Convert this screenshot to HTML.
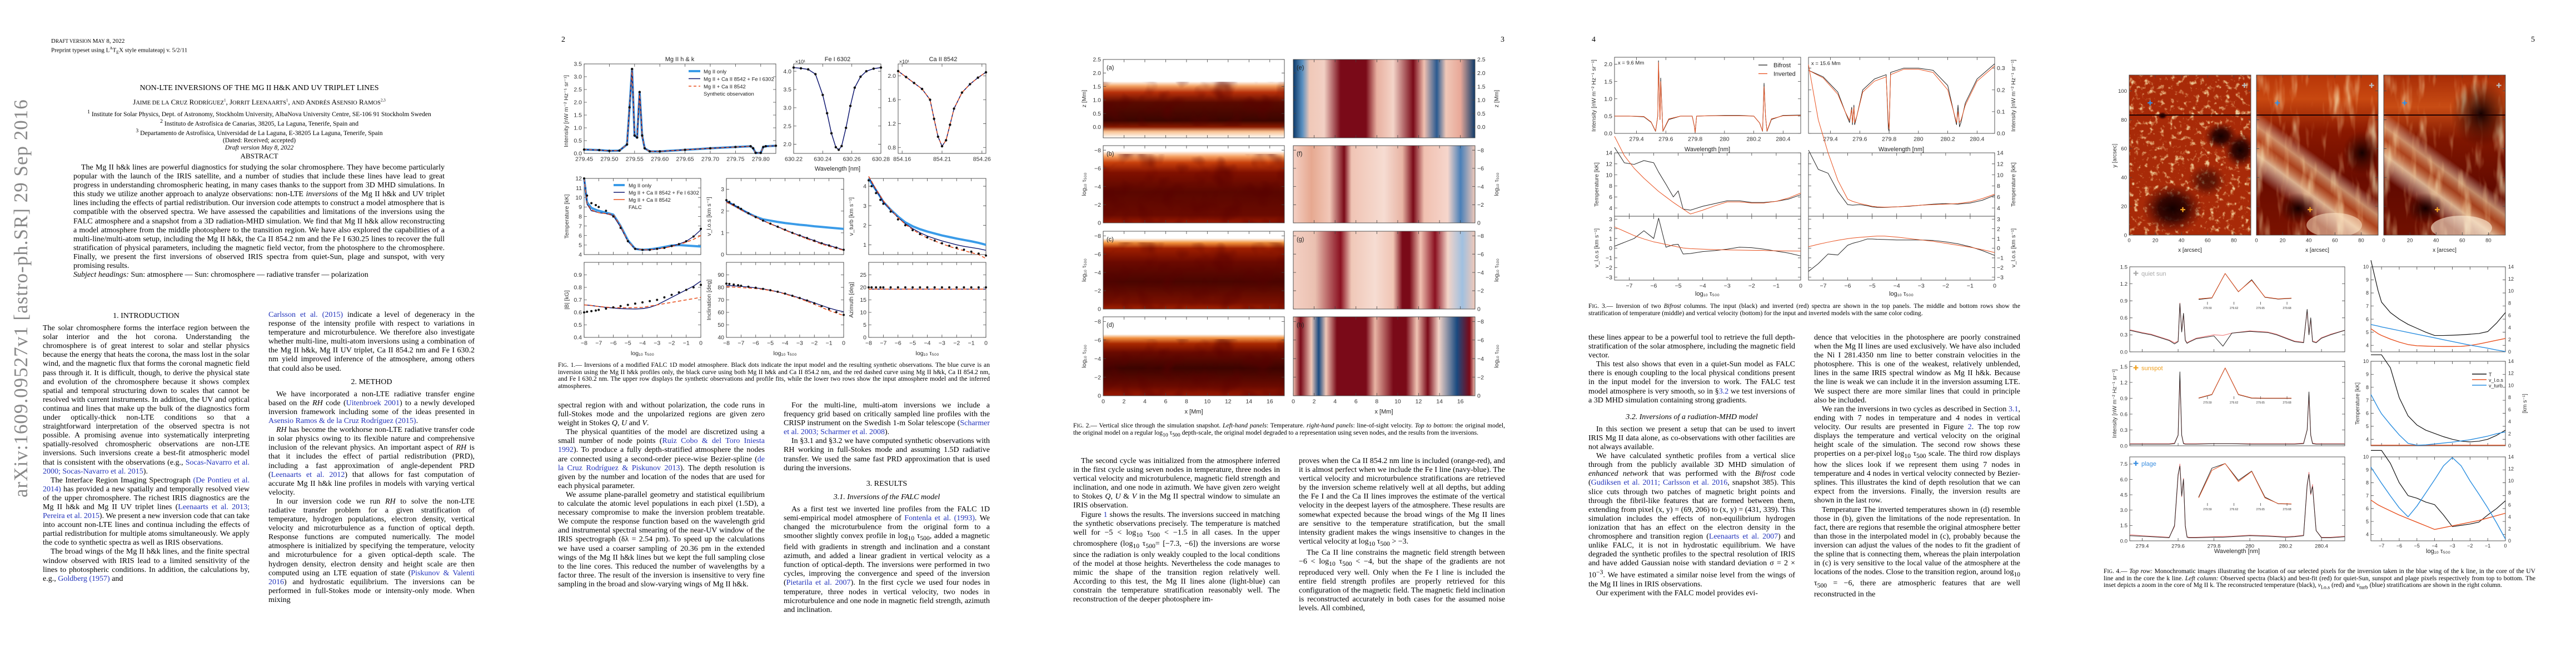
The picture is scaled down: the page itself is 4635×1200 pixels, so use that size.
<!DOCTYPE html>
<html><head><meta charset="utf-8">
<style>
html,body{margin:0;padding:0;background:#fff;}
body{width:4635px;height:1200px;position:relative;overflow:hidden;font-family:"Liberation Serif",serif;color:#000;}
.page{position:absolute;top:0;width:927px;height:1200px;background:#fff;}
.t{position:absolute;font-size:14px;line-height:16.1px;text-align:justify;overflow:hidden;hyphens:auto;}
.t p{margin:0;text-indent:14px;}
.h{text-align:center;text-indent:0!important;margin:8px 0 6px!important;}
.cap{position:absolute;font-size:11.6px;line-height:12.7px;text-align:justify;overflow:hidden;}
.lk{color:#2233bb;}
.hm{position:absolute;overflow:hidden;}
.hm svg{position:absolute;left:0;top:0;}
#charts{position:absolute;left:0;top:0;}
#charts text{font-family:"Liberation Sans",sans-serif;}
</style></head><body>
<svg width="0" height="0" style="position:absolute">
 <filter id="speck" x="0" y="0" width="100%" height="100%"><feTurbulence type="fractalNoise" baseFrequency="0.11" numOctaves="3" seed="3"/><feColorMatrix type="matrix" values="0 0 0 0 1  1.6 0 0 0 -0.35  1.4 0 0 0 -0.6  4 0 0 0 -2.2"/></filter>
 <filter id="fib" x="0" y="0" width="100%" height="100%"><feTurbulence type="fractalNoise" baseFrequency="0.05 0.012" numOctaves="3" seed="7"/><feColorMatrix type="matrix" values="0 0 0 0 1  1.5 0 0 0 -0.3  1.3 0 0 0 -0.5  2.6 0 0 0 -1.35"/></filter>
 <filter id="dark" x="0" y="0" width="100%" height="100%"><feTurbulence type="fractalNoise" baseFrequency="0.03" numOctaves="2" seed="11"/><feColorMatrix type="matrix" values="0 0 0 0 0.1  0 0 0 0 0  0 0 0 0 0  -3 0 0 0 1.6"/></filter>
</svg>

<!-- PAGE 1 -->
<div class="page" style="left:0">
 <div style="position:absolute;left:92px;top:68px;font-size:11px;line-height:13px">D<span style="font-size:9px">RAFT VERSION</span> M<span style="font-size:9px">AY</span> 8, 2022<br>Preprint typeset using L<sup style="font-size:7px">A</sup>T<sub style="font-size:8px">E</sub>X style emulateapj v. 5/2/11</div>
 <div style="position:absolute;left:0;width:933px;top:151px;text-align:center;font-size:14px">NON-LTE INVERSIONS OF THE MG II H&amp;K AND UV TRIPLET LINES</div>
 <div style="position:absolute;left:0;width:933px;top:176px;text-align:center;font-size:13px">J<span style="font-size:10.5px">AIME DE LA</span> C<span style="font-size:10.5px">RUZ</span> R<span style="font-size:10.5px">ODRÍGUEZ</span><sup style="font-size:7px">1</sup>, J<span style="font-size:10.5px">ORRIT</span> L<span style="font-size:10.5px">EENAARTS</span><sup style="font-size:7px">1</sup>, <span style="font-size:10.5px">AND</span> A<span style="font-size:10.5px">NDRÉS</span> A<span style="font-size:10.5px">SENSIO</span> R<span style="font-size:10.5px">AMOS</span><sup style="font-size:7px">2,3</sup></div>
 <div style="position:absolute;left:0;width:933px;top:195px;text-align:center;font-size:11.6px;line-height:13px"><sup>1</sup> Institute for Solar Physics, Dept. of Astronomy, Stockholm University, AlbaNova University Centre, SE-106 91 Stockholm Sweden<br><sup>2</sup> Instituto de Astrofísica de Canarias, 38205, La Laguna, Tenerife, Spain and<br><sup>3</sup> Departamento de Astrofísica, Universidad de La Laguna, E-38205 La Laguna, Tenerife, Spain<br>(Dated: Received; accepted)<br><i>Draft version May 8, 2022</i></div>
 <div style="position:absolute;left:0;width:933px;top:273px;text-align:center;font-size:13px">ABSTRACT</div>
 <div class="t" style="left:132px;top:294px;width:668px;height:240px"><p>The Mg II h&amp;k lines are powerful diagnostics for studying the solar chromosphere. They have become particularly popular with the launch of the IRIS satellite, and a number of studies that include these lines have lead to great progress in understanding chromospheric heating, in many cases thanks to the support from 3D MHD simulations. In this study we utilize another approach to analyze observations: non-LTE <i>inversions</i> of the Mg II h&amp;k and UV triplet lines including the effects of partial redistribution. Our inversion code attempts to construct a model atmosphere that is compatible with the observed spectra. We have assessed the capabilities and limitations of the inversions using the FALC atmosphere and a snapshot from a 3D radiation-MHD simulation. We find that Mg II h&amp;k allow reconstructing a model atmosphere from the middle photosphere to the transition region. We have also explored the capabilities of a multi-line/multi-atom setup, including the Mg II h&amp;k, the Ca II 854.2 nm and the Fe I 630.25 lines to recover the full stratification of physical parameters, including the magnetic field vector, from the photosphere to the chromosphere. Finally, we present the first inversions of observed IRIS spectra from quiet-Sun, plage and sunspot, with very promising results.</p><p style="text-indent:0"><i>Subject headings:</i> Sun: atmosphere — Sun: chromosphere — radiative transfer — polarization</p></div>
 <div style="position:absolute;left:18px;top:895px;transform:rotate(-90deg);transform-origin:0 0;font-size:35px;color:#888;white-space:nowrap;letter-spacing:1px">arXiv:1609.09527v1  [astro-ph.SR]  29 Sep 2016</div>
 <div class="t" style="left:77px;top:553px;width:372px;height:563px"><p class="h">1. INTRODUCTION</p><p style="text-indent:0">The solar chromosphere forms the interface region between the solar interior and the hot corona. Understanding the chromosphere is of great interest to solar and stellar physics because the energy that heats the corona, the mass lost in the solar wind, and the magnetic flux that forms the coronal magnetic field pass through it. It is difficult, though, to derive the physical state and evolution of the chromosphere because it shows complex spatial and temporal structuring down to scales that cannot be resolved with current instruments. In addition, the UV and optical continua and lines that make up the bulk of the diagnostics form under optically-thick non-LTE conditions so that a straightforward interpretation of the observed spectra is not possible. A promising avenue into systematically interpreting spatially-resolved chromospheric observations are non-LTE inversions. Such inversions create a best-fit atmospheric model that is consistent with the observations (e.g., <span class="lk">Socas-Navarro et al. 2000; Socas-Navarro et al. 2015</span>).</p><p>The Interface Region Imaging Spectrograph <span class="lk">(De Pontieu et al. 2014)</span> has provided a new spatially and temporally resolved view of the upper chromosphere. The richest IRIS diagnostics are the Mg II h&amp;k and Mg II UV triplet lines (<span class="lk">Leenaarts et al. 2013; Pereira et al. 2015</span>). We present a new inversion code that can take into account non-LTE lines and continua including the effects of partial redistribution for multiple atoms simultaneously. We apply the code to synthetic spectra as well as IRIS observations.</p><p>The broad wings of the Mg II h&amp;k lines, and the finite spectral window observed with IRIS lead to a limited sensitivity of the lines to photospheric conditions. In addition, the calculations by, e.g., <span class="lk">Goldberg (1957)</span> and</p></div>
 <div class="t" style="left:483px;top:559px;width:371px;height:557px"><p style="text-indent:0"><span class="lk">Carlsson et al. (2015)</span> indicate a level of degeneracy in the response of the intensity profile with respect to variations in temperature and microturbulence. We therefore also investigate whether multi-line, multi-atom inversions using a combination of the Mg II h&amp;k, Mg II UV triplet, Ca II 854.2 nm and Fe I 630.2 nm yield improved inference of the atmosphere, among others that could also be used.</p><p class="h">2. METHOD</p><p>We have incorporated a non-LTE radiative transfer engine based on the <i>RH</i> code (<span class="lk">Uitenbroek 2001</span>) to a newly developed inversion framework including some of the ideas presented in <span class="lk">Asensio Ramos &amp; de la Cruz Rodríguez (2015)</span>.</p><p><i>RH</i> has become the workhorse non-LTE radiative transfer code in solar physics owing to its flexible nature and comprehensive inclusion of the relevant physics. An important aspect of <i>RH</i> is that it includes the effect of partial redistribution (PRD), including a fast approximation of angle-dependent PRD (<span class="lk">Leenaarts et al. 2012</span>) that allows for fast computation of accurate Mg II h&amp;k line profiles in models with varying vertical velocity.</p><p>In our inversion code we run <i>RH</i> to solve the non-LTE radiative transfer problem for a given stratification of temperature, hydrogen populations, electron density, vertical velocity and microturbulence as a function of optical depth. Response functions are computed numerically. The model atmosphere is initialized by specifying the temperature, velocity and microturbulence for a given optical-depth scale. The hydrogen density, electron density and height scale are then computed using an LTE equation of state (<span class="lk">Piskunov &amp; Valenti 2016</span>) and hydrostatic equilibrium. The inversions can be performed in full-Stokes mode or intensity-only mode. When mixing</p></div>
</div>

<!-- PAGE 2 -->
<div class="page" style="left:927px">
 <div style="position:absolute;left:83px;top:64px;font-size:14px">2</div>
 <div class="cap" style="left:77px;top:651px;width:777px;height:54px">F<span style="font-size:9px">IG</span>. 1.— Inversions of a modified FALC 1D model atmosphere. Black dots indicate the input model and the resulting synthetic observations. The blue curve is an inversion using the Mg II h&amp;k profiles only, the black curve using both Mg II h&amp;k and Ca II 854.2 nm, and the red dashed curve using Mg II h&amp;k, Ca II 854.2 nm, and Fe I 630.2 nm. The upper row displays the synthetic observations and profile fits, while the lower two rows show the input atmosphere model and the inferred atmospheres.</div>
 <div class="t" style="left:77px;top:722px;width:372px;height:394px"><p style="text-indent:0">spectral region with and without polarization, the code runs in full-Stokes mode and the unpolarized regions are given zero weight in Stokes <i>Q</i>, <i>U</i> and <i>V</i>.</p><p>The physical quantities of the model are discretized using a small number of node points (<span class="lk">Ruiz Cobo &amp; del Toro Iniesta 1992</span>). To produce a fully depth-stratified atmosphere the nodes are connected using a second-order piece-wise Bezier-spline (<span class="lk">de la Cruz Rodríguez &amp; Piskunov 2013</span>). The depth resolution is given by the number and location of the nodes that are used for each physical parameter.</p><p>We assume plane-parallel geometry and statistical equilibrium to calculate the atomic level populations in each pixel (1.5D), a necessary compromise to make the inversion problem treatable. We compute the response function based on the wavelength grid and instrumental spectral smearing of the near-UV window of the IRIS spectrograph (δλ = 2.54 pm). To speed up the calculations we have used a coarser sampling of 20.36 pm in the extended wings of the Mg II h&amp;k lines but we kept the full sampling close to the line cores. This reduced the number of wavelengths by a factor three. The result of the inversion is insensitive to very fine sampling in the broad and slow-varying wings of Mg II h&amp;k.</p></div>
 <div class="t" style="left:483px;top:722px;width:371px;height:394px"><p>For the multi-line, multi-atom inversions we include a frequency grid based on critically sampled line profiles with the CRISP instrument on the Swedish 1-m Solar telescope (<span class="lk">Scharmer et al. 2003; Scharmer et al. 2008</span>).</p><p>In §3.1 and §3.2 we have computed synthetic observations with RH working in full-Stokes mode and assuming 1.5D radiative transfer. We used the same fast PRD approximation that is used during the inversions.</p><p class="h" style="margin-top:12px!important">3. RESULTS</p><p class="h"><i>3.1. Inversions of the FALC model</i></p><p>As a first test we inverted line profiles from the FALC 1D semi-empirical model atmosphere of <span class="lk">Fontenla et al. (1993)</span>. We changed the microturbulence from the original form to a smoother slightly convex profile in log<sub>10</sub> τ<sub>500</sub>, added a magnetic field with gradients in strength and inclination and a constant azimuth, and added a linear gradient in vertical velocity as a function of optical-depth. The inversions were performed in two cycles, improving the convergence and speed of the inversion (<span class="lk">Pietarila et al. 2007</span>). In the first cycle we used four nodes in temperature, three nodes in vertical velocity, two nodes in microturbulence and one node in magnetic field strength, azimuth and inclination.</p></div>
</div>

<!-- PAGE 3 -->
<div class="page" style="left:1854px">
 <div style="position:absolute;left:846px;top:64px;font-size:14px">3</div>
 <div class="hm" style="left:131px;top:107px;width:326px;height:141px;background:linear-gradient(to bottom,#fff 0%,#fff 28%,#f2a060 34%,#b8300a 42%,#5a0a00 55%,#3c0500 78%,#8a1a00 86%,#f7c090 92%,#fff 100%)"><svg width="326" height="141"><rect y="40" width="326" height="80" filter="url(#dark)" opacity="0.5"/></svg></div>
 <div class="hm" style="left:131px;top:262px;width:326px;height:139px;background:linear-gradient(to bottom,#fff 0%,#fff 7%,#f5a060 14%,#c8400c 22%,#801000 35%,#5a0700 60%,#6a0a00 90%,#9a1a00 100%)"><svg width="326" height="139"><rect y="15" width="326" height="124" filter="url(#dark)" opacity="0.5"/></svg></div>
 <div class="hm" style="left:131px;top:416px;width:326px;height:140px;background:linear-gradient(to bottom,#fff 0%,#fff 9%,#f0903a 15%,#a02000 22%,#6a0900 40%,#4a0500 65%,#7a1000 92%,#a02000 100%)"><svg width="326" height="140"><rect y="20" width="326" height="120" filter="url(#dark)" opacity="0.45"/></svg></div>
 <div class="hm" style="left:131px;top:570px;width:326px;height:142px;background:linear-gradient(to bottom,#fff 0%,#fff 22%,#f09040 27%,#a82800 34%,#6a0a00 45%,#3c0400 65%,#6a0a00 88%,#9a1800 100%)"><svg width="326" height="142"><rect y="40" width="326" height="102" filter="url(#dark)" opacity="0.5"/></svg></div>
 <div class="hm" style="left:473px;top:107px;width:327px;height:141px;background:linear-gradient(to right,#0d3a6a 0%,#5a90c0 5%,#f0c8b8 9%,#f2d0c4 17%,#7a0a18 26%,#7a0a18 40%,#e8b0a0 46%,#f4d4c8 55%,#7a0a18 66%,#f0c0b0 72%,#2a5a90 79%,#f0c8b8 84%,#e8a898 92%,#0d3a6a 100%)"></div>
 <div class="hm" style="left:473px;top:262px;width:327px;height:139px;background:linear-gradient(to right,#f4d0c4 0%,#e6a890 10%,#f2c8b8 20%,#7a0a18 28%,#f0c4b4 32%,#f6dcd2 50%,#e8b4a4 60%,#7a0a18 66%,#f0c0b0 72%,#f6d6cc 85%,#4a80b8 92%,#f0c8b8 100%)"></div>
 <div class="hm" style="left:473px;top:416px;width:327px;height:140px;background:linear-gradient(to right,#f4d0c4 0%,#eac0b0 12%,#8a1020 26%,#f0c8b8 32%,#f6dcd2 45%,#f0c4b4 55%,#7a0a18 60%,#7a0a18 64%,#f0c0b0 70%,#8a1020 78%,#f4d4c8 85%,#a0c0e0 93%,#f0c8b8 100%)"></div>
 <div class="hm" style="left:473px;top:570px;width:327px;height:142px;background:linear-gradient(to right,#f0c0b0 0%,#7a0a18 4%,#f0c8b8 10%,#1a4a80 14%,#f0c8b8 18%,#7a0a18 24%,#7a0a18 40%,#e8b4a4 45%,#7a0a18 55%,#7a0a18 62%,#f0c4b4 68%,#7a0a18 74%,#f4d4c8 80%,#1a4a80 90%,#7a0a18 97%,#f0c0b0 100%)"></div>
 <div class="cap" style="left:77px;top:760px;width:777px;height:42px">F<span style="font-size:9px">IG</span>. 2.— Vertical slice through the simulation snapshot. <i>Left-hand panels</i>: Temperature. <i>right-hand panels</i>: line-of-sight velocity. <i>Top to bottom</i>: the original model, the original model on a regular log<sub>10</sub> τ<sub>500</sub> depth-scale, the original model degraded to a representation using seven nodes, and the results from the inversions.</div>
 <div class="t" style="left:77px;top:822px;width:372px;height:292px"><p>The second cycle was initialized from the atmosphere inferred in the first cycle using seven nodes in temperature, three nodes in vertical velocity and microturbulence, magnetic field strength and inclination, and one node in azimuth. We have given zero weight to Stokes <i>Q</i>, <i>U</i> &amp; <i>V</i> in the Mg II spectral window to simulate an IRIS observation.</p><p>Figure <span class="lk">1</span> shows the results. The inversions succeed in matching the synthetic observations precisely. The temperature is matched well for −5 &lt; log<sub>10</sub> τ<sub>500</sub> &lt; −1.5 in all cases. In the upper chromosphere (log<sub>10</sub> τ<sub>500</sub>= [−7.3, −6]) the inversions are worse since the radiation is only weakly coupled to the local conditions of the model at those heights. Nevertheless the code manages to mimic the shape of the transition region relatively well. According to this test, the Mg II lines alone (light-blue) can constrain the temperature stratification reasonably well. The reconstruction of the deeper photosphere im-</p></div>
 <div class="t" style="left:483px;top:822px;width:371px;height:292px"><p style="text-indent:0">proves when the Ca II 854.2 nm line is included (orange-red), and it is almost perfect when we include the Fe I line (navy-blue). The vertical velocity and microturbulence stratifications are retrieved by the inversion scheme relatively well at all depths, but adding the Fe I and the Ca II lines improves the estimate of the vertical velocity in the deepest layers of the atmosphere. These results are somewhat expected because the broad wings of the Mg II lines are sensitive to the temperature stratification, but the small intensity gradient makes the wings insensitive to changes in the vertical velocity at log<sub>10</sub> τ<sub>500</sub> &gt; −3.</p><p>The Ca II line constrains the magnetic field strength between −6 &lt; log<sub>10</sub> τ<sub>500</sub> &lt; −4, but the shape of the gradients are not reproduced very well. Only when the Fe I line is included the entire field strength profiles are properly retrieved for this configuration of the magnetic field. The magnetic field inclination is reconstructed accurately in both cases for the assumed noise levels. All combined,</p></div>
</div>

<!-- PAGE 4 -->
<div class="page" style="left:2781px">
 <div style="position:absolute;left:83px;top:64px;font-size:14px">4</div>
 <div class="cap" style="left:77px;top:545px;width:777px;height:42px">F<span style="font-size:9px">IG</span>. 3.— Inversion of two <i>Bifrost</i> columns. The input (black) and inverted (red) spectra are shown in the top panels. The middle and bottom rows show the stratification of temperature (middle) and vertical velocity (bottom) for the input and inverted models with the same color coding.</div>
 <div class="t" style="left:77px;top:600px;width:372px;height:514px"><p style="text-indent:0">these lines appear to be a powerful tool to retrieve the full depth-stratification of the solar atmosphere, including the magnetic field vector.</p><p>This test also shows that even in a quiet-Sun model as FALC there is enough coupling to the local physical conditions present in the input model for the inversion to work. The FALC test model atmosphere is very smooth, so in §<span class="lk">3.2</span> we test inversions of a 3D MHD simulation containing strong gradients.</p><p class="h" style="margin-top:14px!important"><i>3.2. Inversions of a radiation-MHD model</i></p><p>In this section we present a setup that can be used to invert IRIS Mg II data alone, as co-observations with other facilities are not always available.</p><p>We have calculated synthetic profiles from a vertical slice through from the publicly available 3D MHD simulation of <i>enhanced network</i> that was performed with the <i>Bifrost</i> code (<span class="lk">Gudiksen et al. 2011; Carlsson et al. 2016</span>, snapshot 385). This slice cuts through two patches of magnetic bright points and through the fibril-like features that are formed between them, extending from pixel (x, y) = (69, 206) to (x, y) = (431, 339). This simulation includes the effects of non-equilibrium hydrogen ionization that has an effect on the electron density in the chromosphere and transition region (<span class="lk">Leenaarts et al. 2007</span>) and unlike FALC, it is not in hydrostatic equilibrium. We have degraded the synthetic profiles to the spectral resolution of IRIS and have added Gaussian noise with standard deviation σ = 2 × 10<sup>−3</sup>. We have estimated a similar noise level from the wings of the Mg II lines in IRIS observations.</p><p>Our experiment with the FALC model provides evi-</p></div>
 <div class="t" style="left:483px;top:600px;width:371px;height:514px"><p style="text-indent:0">dence that velocities in the photosphere are poorly constrained when the Mg II lines are used exclusively. We have also included the Ni I 281.4350 nm line to better constrain velocities in the photosphere. This is one of the weakest, relatively unblended, lines in the same IRIS spectral window as Mg II h&amp;k. Because the line is weak we can include it in the inversion assuming LTE. We suspect there are more similar lines that could in principle also be included.</p><p>We ran the inversions in two cycles as described in Section <span class="lk">3.1</span>, ending with 7 nodes in temperature and 4 nodes in vertical velocity. Our results are presented in Figure <span class="lk">2</span>. The top row displays the temperature and vertical velocity on the original height scale of the simulation. The second row shows these properties on a per-pixel log<sub>10</sub> τ<sub>500</sub> scale. The third row displays how the slices look if we represent them using 7 nodes in temperature and 4 nodes in vertical velocity connected by Bezier-splines. This illustrates the kind of depth resolution that we can expect from the inversions. Finally, the inversion results are shown in the last row.</p><p>Temperature The inverted temperatures shown in (d) resemble those in (b), given the limitations of the node representation. In fact, there are regions that resemble the original atmosphere better than those in the interpolated model in (c), probably because the inversion can adjust the values of the nodes to fit the gradient of the spline that is connecting them, whereas the plain interpolation in (c) is very sensitive to the local value of the atmosphere at the locations of the nodes. Close to the transition region, around log<sub>10</sub> τ<sub>500</sub> = −6, there are atmospheric features that are well reconstructed in the</p></div>
</div>

<!-- PAGE 5 -->
<div class="page" style="left:3708px">
 <div style="position:absolute;left:846px;top:64px;font-size:14px">5</div>
 <div class="hm" style="left:123px;top:135px;width:219px;height:288px;background:#a82a08"><svg width="219" height="288">
  <defs><radialGradient id="spot"><stop offset="0" stop-color="#140000"/><stop offset="0.45" stop-color="#2a0200" stop-opacity="0.9"/><stop offset="1" stop-color="#5a0800" stop-opacity="0"/></radialGradient></defs>
  <rect width="219" height="288" filter="url(#speck)" opacity="0.75"/>
  <ellipse cx="78" cy="240" rx="55" ry="45" fill="url(#spot)"/>
  <ellipse cx="200" cy="135" rx="30" ry="32" fill="url(#spot)"/>
  <ellipse cx="165" cy="110" rx="30" ry="25" fill="url(#spot)"/>
  <ellipse cx="140" cy="190" rx="35" ry="30" fill="url(#spot)" opacity="0.6"/>
  <ellipse cx="60" cy="73" rx="9" ry="7" fill="url(#spot)"/>
  <rect y="71" width="219" height="2" fill="#200000"/></svg></div>
 <div class="hm" style="left:352px;top:135px;width:219px;height:288px;background:linear-gradient(to bottom,#b83608 0%,#c84810 15%,#8a1800 35%,#6a0c00 65%,#7a1200 100%)"><svg width="219" height="288">
  <defs><radialGradient id="spot2"><stop offset="0" stop-color="#140000"/><stop offset="1" stop-color="#3a0400" stop-opacity="0"/></radialGradient>
  <linearGradient id="band2" gradientUnits="userSpaceOnUse" x1="40" y1="260" x2="150" y2="110"><stop offset="0.2" stop-color="#fff" stop-opacity="0"/><stop offset="0.38" stop-color="#ffe8c0" stop-opacity="0.75"/><stop offset="0.5" stop-color="#f08040" stop-opacity="0.45"/><stop offset="0.6" stop-color="#ffe0b0" stop-opacity="0.6"/><stop offset="0.72" stop-color="#fff" stop-opacity="0"/></linearGradient></defs>
  <rect width="219" height="288" fill="url(#band2)"/>
  <rect width="219" height="288" filter="url(#fib)" opacity="0.7"/>
  <ellipse cx="75" cy="240" rx="35" ry="28" fill="url(#spot2)"/>
  <ellipse cx="190" cy="140" rx="35" ry="40" fill="url(#spot2)"/>
  <ellipse cx="140" cy="270" rx="50" ry="22" fill="#ffe8c8" opacity="0.55"/>
  <rect y="71" width="219" height="2" fill="#200000"/></svg></div>
 <div class="hm" style="left:581px;top:135px;width:219px;height:288px;background:linear-gradient(to bottom,#a82c06 0%,#c84c14 20%,#801600 40%,#620a00 70%,#701000 100%)"><svg width="219" height="288">
  <rect width="219" height="288" fill="url(#band2)"/>
  <rect width="219" height="288" filter="url(#fib)" opacity="0.7"/>
  <ellipse cx="75" cy="240" rx="35" ry="28" fill="url(#spot2)"/>
  <ellipse cx="175" cy="70" rx="55" ry="60" fill="url(#spot2)"/>
  <ellipse cx="140" cy="275" rx="55" ry="22" fill="#fff0d8" opacity="0.6"/>
  <rect y="71" width="219" height="2" fill="#200000"/></svg></div>
 <div class="cap" style="left:77px;top:1022px;width:777px;height:54px">F<span style="font-size:9px">IG</span>. 4.— <i>Top row:</i> Monochromatic images illustrating the location of our selected pixels for the inversion taken in the blue wing of the k line, in the core of the UV line and in the core the k line. <i>Left column:</i> Observed spectra (black) and best-fit (red) for quiet-Sun, sunspot and plage pixels respectively from top to bottom. The inset depicts a zoom in the core of Mg II k. The reconstructed temperature (black), <i>v</i><sub>l.o.s</sub> (red) and <i>v</i><sub>turb</sub> (blue) stratifications are shown in the right column.</div>
</div>

<svg id="charts" width="4635" height="1200" xmlns="http://www.w3.org/2000/svg"></svg>

<script>
// ---------- Page 2, Fig 1 data ----------
const mgWave = [279.45,279.48,279.50,279.52,279.535,279.54,279.545,279.55,279.555,279.56,279.565,279.57,279.58,279.60,279.65,279.70,279.75,279.78,279.785,279.79,279.80,279.805,279.81,279.83];
const mgObs  = [0.15,0.13,0.10,0.11,0.35,1.8,3.3,0.7,0.62,2.4,0.7,0.2,0.08,0.08,0.14,0.2,0.25,0.28,0.2,0.02,0.02,0.25,0.28,0.3];
const feWave = [630.22,630.225,630.23,630.235,630.24,630.243,630.246,630.249,630.251,630.253,630.256,630.259,630.262,630.266,630.27,630.275,630.28];
const feObs  = [4.1,4.08,4.05,3.92,3.35,2.85,2.3,1.92,1.85,1.95,2.45,3.05,3.55,3.85,4.0,4.07,4.1];
const caWave = [854.155,854.165,854.175,854.185,854.195,854.2,854.205,854.21,854.215,854.22,854.225,854.235,854.245,854.255,854.265];
const caObs  = [2.08,1.98,1.88,1.78,1.6,1.28,0.98,0.82,0.92,1.18,1.45,1.72,1.86,1.97,2.06];
const tauA = [-8,-7.8,-7.5,-7.2,-7,-6.5,-6,-5.5,-5,-4.5,-4,-3.5,-3,-2.5,-2,-1.5,-1,-0.5,0];
const tempFalc   = [12,10.2,9.4,9.2,9.0,8.6,8.0,6.8,5.4,4.6,4.5,4.5,4.6,4.7,4.9,5.1,5.4,5.9,6.7];
const tempMgOnly = [12,9.5,8.9,8.7,8.6,8.4,8.2,7.0,5.5,4.6,4.5,4.55,4.65,4.8,4.95,5.0,4.95,4.9,4.85];
const tempMulti  = [12,9.3,8.6,8.5,8.4,8.3,8.1,6.9,5.4,4.6,4.5,4.5,4.6,4.7,4.9,5.1,5.4,5.9,6.6];
const tempCa     = [12,9.4,8.7,8.5,8.4,8.3,8.2,7.0,5.4,4.6,4.5,4.5,4.6,4.7,4.85,5.05,5.3,5.6,6.0];
const vlosFalc   = [2.5,2.42,2.3,2.18,2.1,1.9,1.72,1.56,1.42,1.28,1.14,1.0,0.88,0.76,0.64,0.52,0.42,0.32,0.22];
const vlosMgOnly = [2.45,2.38,2.27,2.16,2.08,1.9,1.74,1.62,1.56,1.5,1.45,1.41,1.37,1.34,1.3,1.27,1.24,1.21,1.18];
const vlosMulti  = [2.45,2.38,2.27,2.16,2.08,1.9,1.72,1.56,1.42,1.28,1.14,1.0,0.88,0.76,0.64,0.52,0.42,0.32,0.22];
const vlosCa     = [2.4,2.34,2.24,2.13,2.05,1.88,1.72,1.56,1.41,1.26,1.12,0.98,0.85,0.72,0.6,0.48,0.38,0.28,0.2];
const vturbFalc   = [4.3,4.0,3.65,3.3,3.1,2.7,2.3,2.0,1.75,1.55,1.38,1.22,1.08,0.95,0.85,0.75,0.65,0.55,0.45];
const vturbMgOnly = [4.4,4.15,3.8,3.45,3.2,2.8,2.45,2.15,1.95,1.8,1.68,1.58,1.48,1.4,1.32,1.25,1.18,1.1,1.0];
const vturbMulti  = [4.5,4.2,3.8,3.45,3.2,2.78,2.4,2.08,1.83,1.62,1.45,1.32,1.2,1.1,1.0,0.92,0.86,0.8,0.72];
const vturbCa     = [4.5,4.25,3.85,3.5,3.25,2.8,2.4,2.05,1.78,1.55,1.35,1.2,1.05,0.92,0.8,0.7,0.6,0.5,0.3];
const bFalc   = [0.60,0.605,0.61,0.615,0.62,0.63,0.64,0.65,0.66,0.67,0.68,0.69,0.70,0.72,0.74,0.76,0.78,0.80,0.82];
const bMulti  = [0.66,0.658,0.655,0.65,0.647,0.64,0.635,0.63,0.628,0.627,0.63,0.64,0.66,0.69,0.72,0.75,0.78,0.81,0.85];
const bCa     = [0.66,0.658,0.655,0.65,0.647,0.642,0.638,0.637,0.637,0.638,0.64,0.65,0.66,0.67,0.68,0.69,0.70,0.71,0.72];
const incFalc  = [83,82.7,82.2,81.7,81.3,80.5,79.7,78.8,77.7,76.5,75,73.3,71.5,69.5,67.3,65,62.7,60.3,58];
const incMulti = [81.5,81.4,81.2,81,80.8,80.3,79.6,78.8,77.7,76.5,75,73.3,71.5,69.6,67.6,65.5,63.5,61.8,60.5];
const incCa    = [80.5,80.4,80.2,80,79.8,79.5,79,78.4,77.5,76.3,74.7,72.9,71,68.8,66.5,64,61.5,59.5,57.5];
const azFalc  = [20,20,20,20,20,20,20,20,20,20,20,20,20,20,20,20,20,20,20];
const azMulti = [19.3,19.3,19.3,19.3,19.3,19.3,19.3,19.3,19.3,19.3,19.3,19.3,19.3,19.3,19.3,19.3,19.3,19.3,19.3];
// ---------- Page 4, Fig 3 data ----------
const bfWave = [279.25,279.35,279.45,279.5,279.53,279.545,279.55,279.56,279.565,279.58,279.62,279.7,279.78,279.795,279.8,279.81,279.9,280.0,280.1,280.2,280.24,280.26,280.27,280.28,280.29,280.32,280.4,280.52];
const bfLeftObs = [0.5,0.5,0.48,0.32,0.06,0.5,2.1,0.4,1.6,0.06,0.4,0.5,0.5,0.2,0.02,0.5,0.51,0.52,0.52,0.5,0.3,0.06,1.45,0.5,0.06,0.4,0.52,0.53];
const bfLeftInv = [0.5,0.5,0.49,0.33,0.07,0.5,2.05,0.4,1.5,0.07,0.42,0.5,0.5,0.2,0.03,0.5,0.51,0.51,0.51,0.5,0.3,0.07,1.35,0.5,0.07,0.42,0.51,0.52];
const bfRightObs = [0.29,0.26,0.19,0.1,0.05,0.12,0.04,0.13,0.04,0.08,0.2,0.25,0.27,0.02,0.01,0.28,0.3,0.3,0.29,0.22,0.1,0.04,0.13,0.03,0.05,0.14,0.25,0.32];
const bfRightInv = [0.29,0.255,0.18,0.1,0.06,0.11,0.05,0.12,0.05,0.08,0.19,0.24,0.26,0.05,0.02,0.27,0.295,0.295,0.28,0.2,0.1,0.05,0.1,0.05,0.06,0.13,0.24,0.31];
const tauB = [-7.6,-7.2,-6.8,-6.4,-6,-5.8,-5.5,-5.2,-5,-4.8,-4.5,-4,-3.5,-3,-2.5,-2,-1.5,-1,-0.5,0];
const tLeftObs  = [15,12.2,11.9,12.6,12.2,10.5,8.3,6.0,7.1,3.8,3.6,4.3,4.8,5.3,5.3,5.0,5.0,5.2,5.6,6.4];
const tLeftInv  = [17,13.5,11.2,9.4,7.8,7.0,6.0,5.0,4.4,3.8,2.9,3.6,4.4,5.1,5.1,4.9,4.9,5.2,5.8,6.7];
const tRightObs = [14.5,11,10.3,7,4.6,4.5,4.6,4.4,4.2,4.1,4.1,4.2,4.3,4.5,4.7,4.8,4.7,4.9,5.4,6.3];
const tRightInv = [30,20,14,9,5.6,5.2,4.8,4.5,4.3,4.2,4.15,4.2,4.35,4.5,4.6,4.7,4.8,5.1,5.7,6.5];
const vLeftObs  = [0.2,0.6,1.0,1.8,1.0,3.1,0.1,0.35,0.4,-0.6,-0.55,-0.35,-0.25,-0.1,0.1,0.05,-0.1,-0.3,-0.5,-0.8];
const vLeftInv  = [2.2,1.75,1.3,0.95,0.65,0.55,0.38,0.22,0.12,0.02,-0.05,-0.1,-0.15,-0.18,-0.2,-0.22,-0.24,-0.27,-0.29,-0.3];
const vRightObs = [-2.4,-1.6,-0.6,-0.7,0.3,0.5,0.7,0.95,0.95,0.92,0.9,0.85,0.85,0.85,0.8,0.65,0.45,0.15,-0.25,-0.75];
const vRightInv = [0.15,0.4,0.62,0.82,0.98,1.05,1.12,1.18,1.22,1.25,1.25,1.15,1.0,0.85,0.7,0.5,0.3,0.1,-0.15,-0.45];
// ---------- Page 5, Fig 4 data ----------
const irisWave = [279.33,279.4,279.45,279.5,279.55,279.58,279.6,279.61,279.62,279.63,279.64,279.65,279.66,279.7,279.8,279.85,279.9,280.0,280.1,280.15,280.2,280.25,280.3,280.32,280.33,280.34,280.35,280.37,280.4,280.45,280.53];
const qsObs  = [0.38,0.33,0.3,0.25,0.2,0.14,0.18,0.85,0.35,0.68,0.2,0.15,0.17,0.23,0.28,0.1,0.33,0.36,0.34,0.3,0.24,0.18,0.16,0.75,0.3,0.6,0.18,0.16,0.24,0.3,0.38];
const qsFit  = [0.39,0.34,0.31,0.26,0.21,0.16,0.19,0.86,0.36,0.67,0.21,0.16,0.18,0.24,0.3,0.29,0.33,0.37,0.35,0.31,0.25,0.19,0.17,0.73,0.31,0.58,0.19,0.17,0.25,0.31,0.38];
const spObs  = [0.03,0.03,0.03,0.03,0.03,0.04,0.2,1.4,0.2,0.04,0.03,0.03,0.03,0.03,0.04,0.04,0.04,0.03,0.03,0.03,0.03,0.03,0.04,0.3,1.02,0.2,0.04,0.03,0.03,0.03,0.03];
const spFit  = [0.04,0.04,0.04,0.04,0.04,0.05,0.2,1.32,0.2,0.05,0.04,0.04,0.04,0.04,0.04,0.04,0.04,0.04,0.04,0.04,0.04,0.04,0.05,0.3,0.96,0.2,0.05,0.04,0.04,0.04,0.04];
const plObs  = [0.5,0.45,0.4,0.35,0.3,1.5,6.5,7.3,4.4,6.0,1.5,0.35,0.3,0.3,0.35,0.35,0.4,0.5,0.45,0.4,0.35,0.4,0.5,5.5,6.5,4.6,5.3,1.0,0.3,0.3,0.4];
const plFit  = [0.6,0.5,0.45,0.4,0.35,1.4,6.3,7.5,4.3,6.1,1.4,0.4,0.35,0.35,0.4,0.42,0.45,0.55,0.5,0.45,0.4,0.45,0.55,5.3,6.7,4.5,5.5,1.0,0.35,0.35,0.45];
const tauC = [-7.6,-7.2,-7,-6.5,-6,-5.5,-5,-4.5,-4,-3.5,-3,-2.5,-2,-1.5,-1,-0.5,0];
const qsT    = [14,8.2,7.3,6.5,6.0,5.6,5.3,5.0,4.75,4.75,4.77,4.8,4.85,4.9,5.05,5.7,6.5];
const qsVlos = [3.8,3.0,2.7,2.1,1.6,1.2,1.0,0.95,0.9,0.88,0.88,0.9,1.05,1.3,1.6,1.9,2.2];
const qsVturb= [4.5,4.25,4.1,3.8,3.5,3.2,2.9,2.6,2.3,2.0,1.7,1.4,1.1,0.85,0.6,0.3,0.05];
const spT    = [20,14,12.5,9.5,7.2,5.8,5.1,4.7,4.45,4.2,4.0,3.85,3.8,3.85,4.0,4.3,4.7];
const spVlos = [0.1,0.1,0.1,0.1,0.1,0.1,0.1,0.1,0.1,0.1,0.1,0.1,0.1,0.1,0.1,0.1,0.1];
const spVturb= [8.5,6.3,5.3,3.5,1.8,0.4,0.1,0.15,0.3,0.45,0.6,0.8,1.0,1.3,1.6,2.0,2.3];
const plT    = [20,14,11.5,9.5,8.0,7.0,6.8,6.5,6.3,5.5,4.6,4.7,4.8,4.95,5.5,6.0,6.6];
const plVlos = [6.8,6.0,5.7,5.0,4.3,3.7,3.1,2.5,1.9,2.2,2.5,2.8,3.1,3.4,3.8,4.2,4.6];
const plVturb= [12.3,10.5,9.6,7.5,5.5,4.0,5.8,8.0,10.2,12.5,13.9,12.5,10.0,7.8,5.5,3.0,0.3];

const SVGNS = 'http://www.w3.org/2000/svg';
const root = document.getElementById('charts');
function mk(tag, parent){const e=document.createElementNS(SVGNS,tag);parent.appendChild(e);return e;}
function scale(b,xr,yr){return {x:v=>b[0]+(v-xr[0])/(xr[1]-xr[0])*(b[2]-b[0]), y:v=>b[3]-(v-yr[0])/(yr[1]-yr[0])*(b[3]-b[1])};}
function txt(parent,x,y,s,size,anchor,color,rot){
  const t=mk('text',parent);t.setAttribute('x',x);t.setAttribute('y',y);t.setAttribute('font-size',size);
  t.setAttribute('text-anchor',anchor||'middle');t.setAttribute('fill',color||'#222');
  if(rot){t.setAttribute('transform','rotate('+rot+' '+x+' '+y+')');}
  t.textContent=s;
  
  
  return t;}
function axes(name,b,xr,yr,xticks,yticks,o){
  o=o||{};
  const g=mk('g',root);
  
  
  const s=scale(b,xr,yr);
  const r=mk('rect',g);r.setAttribute('x',b[0]);r.setAttribute('y',b[1]);r.setAttribute('width',b[2]-b[0]);r.setAttribute('height',b[3]-b[1]);
  r.setAttribute('fill','none');r.setAttribute('stroke','#444');r.setAttribute('stroke-width',o.sw||0.9);
  
  
  let d='';
  xticks.forEach(v=>{const X=s.x(v);d+='M'+X+' '+b[3]+'v-5';if(!o.nobox)d+='M'+X+' '+b[1]+'v5';});
  yticks.forEach(v=>{const Y=s.y(v);d+='M'+b[0]+' '+Y+'h5';d+='M'+b[2]+' '+Y+'h-5';});
  const p=mk('path',g);p.setAttribute('d',d);p.setAttribute('stroke','#444');p.setAttribute('stroke-width',0.8);
  
  
  const fs=o.fs||10.5;
  if(!o.noxl) xticks.forEach((v,i)=>txt(g,s.x(v),b[3]+fs+3,(o.xlab?o.xlab[i]:String(v)).replace('-','−'),fs,'middle','#333'));
  if(!o.noyl) yticks.forEach((v,i)=>txt(g,o.yr?b[2]+4:b[0]-4,s.y(v)+fs*0.35,(o.ylab?o.ylab[i]:String(v)).replace('-','−'),fs,o.yr?'start':'end','#333'));
  return {g,s};
}
function series(ax,xs,ys,color,w,name,dash){
  const p=mk('polyline',ax.g);
  p.setAttribute('points',xs.map((v,i)=>ax.s.x(v)+','+ax.s.y(ys[i])).join(' '));
  p.setAttribute('fill','none');p.setAttribute('stroke',color);p.setAttribute('stroke-width',w);
  p.setAttribute('stroke-linejoin','round');
  if(dash)p.setAttribute('stroke-dasharray',dash);
  
  
}
function dots(ax,xs,ys,name,r){
  const g=mk('g',ax.g);
  
  
  xs.forEach((v,i)=>{const c=mk('circle',g);c.setAttribute('cx',ax.s.x(v));c.setAttribute('cy',ax.s.y(ys[i]));c.setAttribute('r',r||2.2);c.setAttribute('fill','#111');});
}
const LB='#3a9be8', NV='#101870', OR='#e8501e';
// ===== PAGE 2 =====
let P=927;
let a=axes('mg-hk-spectrum',[P+124,115,P+469,276],[279.45,279.83],[0,3.5],[279.45,279.5,279.55,279.6,279.65,279.7,279.75,279.8],[0,0.5,1,1.5,2,2.5,3,3.5],{xlab:['279.45','279.50','279.55','279.60','279.65','279.70','279.75','279.80'],ylab:['0.0','0.5','1.0','1.5','2.0','2.5','3.0','3.5']});
series(a,mgWave,mgObs,LB,4,'mg-only-fit');series(a,mgWave,mgObs,NV,1.5,'mg-ca-fe-fit');series(a,mgWave,mgObs,OR,1.5,'mg-ca-fit','5 4');dots(a,mgWave,mgObs,'synthetic-observation');
txt(a.g,P+296,110,'Mg II h & k',11);
txt(a.g,P+95,200,'Intensity [nW m⁻² Hz⁻¹ sr⁻¹]',10.5,'middle','#333',-90);
[['Mg II only',LB,''],['Mg II + Ca II 8542 + Fe I 6302',NV,''],['Mg II + Ca II 8542',OR,'5 4']].forEach((e,i)=>{const l=mk('line',a.g);l.setAttribute('x1',P+312);l.setAttribute('x2',P+333);l.setAttribute('y1',128+i*13.5);l.setAttribute('y2',128+i*13.5);l.setAttribute('stroke',e[1]);l.setAttribute('stroke-width',i==0?4:1.6);if(e[2])l.setAttribute('stroke-dasharray',e[2]);
 
 
 txt(a.g,P+339,132+i*13.5,e[0],9.5,'start');});
txt(a.g,P+339,172,'Synthetic observation',9.5,'start');
a=axes('fe-6302-spectrum',[P+501,115,P+658,276],[630.22,630.28],[1.75,4.2],[630.22,630.24,630.26,630.28],[2,2.5,3,3.5,4],{xlab:['630.22','630.24','630.26','630.28'],ylab:['2.0','2.5','3.0','3.5','4.0']});
series(a,feWave,feObs,NV,1.5,'fe-fit');dots(a,feWave,feObs,'fe-observation');txt(a.g,P+580,110,'Fe I 6302',11);txt(a.g,P+513,114,'×10¹',9);
a=axes('ca-8542-spectrum',[P+689,115,P+847,276],[854.155,854.265],[0.7,2.2],[854.16,854.21,854.26],[0.8,1.2,1.6,2.0],{ylab:['0.8','1.2','1.6','2.0']});
series(a,caWave,caObs,NV,1.5,'ca-fit');series(a,caWave,caObs,OR,1.5,'ca-fit-red','5 4');dots(a,caWave,caObs,'ca-observation');txt(a.g,P+770,110,'Ca II 8542',11);txt(a.g,P+700,114,'×10¹',9);
txt(root,P+580,307,'Wavelength [nm]',11);
const tx=[-8,-7,-6,-5,-4,-3,-2,-1,0];
function row2(name,col,b1,b3,yr,yt,obs,mg,mu,ca,ylabel){
  const L=[124,380,636][col],R=[334,591,847][col];
  const ax=axes(name,[P+L,b1,P+R,b3],[-8,0],yr,tx,yt,{noxl:b3<500});
  if(mg)series(ax,tauA,mg,LB,4,'mg-only-'+name);
  series(ax,tauA,mu,NV,1.4,'multi-'+name);
  series(ax,tauA,ca,OR,1.6,'ca-'+name,'6 4');
  dots(ax,tauA,obs,'falc-'+name,2);
  txt(ax.g,P+L-28,(b1+b3)/2,ylabel,10.5,'middle','#333',-90);
  if(b3>500)txt(ax.g,(P+L+P+R)/2,b3+32,'log₁₀ τ₅₀₀',10.5);
  return ax;}
a=row2('temperature-panel',0,321,458,[4,12],[4,5,6,7,8,9,10,11,12],tempFalc,tempMgOnly,tempMulti,tempCa,'Temperature [kK]');
[['Mg II only',LB],['Mg II + Ca II 8542 + Fe I 6302',NV],['Mg II + Ca II 8542',OR]].forEach((e,i)=>{const l=mk('line',a.g);l.setAttribute('x1',P+177);l.setAttribute('x2',P+197);l.setAttribute('y1',333+i*13);l.setAttribute('y2',333+i*13);l.setAttribute('stroke',e[1]);l.setAttribute('stroke-width',i==0?4:1.6);
 
 
 txt(a.g,P+204,337+i*13,e[0],9.5,'start');});
txt(a.g,P+204,376,'FALC',9.5,'start');
row2('vlos-panel',1,321,458,[0,3.5],[0,1,2,3],vlosFalc,vlosMgOnly,vlosMulti,vlosCa,'v_l.o.s [km s⁻¹]');
row2('vturb-panel',2,321,458,[0.5,4.4],[1,2,3,4],vturbFalc,vturbMgOnly,vturbMulti,vturbCa,'v_turb [km s⁻¹]');
row2('b-field-panel',0,472,607,[0.4,1.0],[0.4,0.5,0.6,0.7,0.8,0.9],bFalc,null,bMulti,bCa,'|B| [kG]');
row2('inclination-panel',1,472,607,[40,100],[40,50,60,70,80,90],incFalc,null,incMulti,incCa,'Inclination [deg]');
row2('azimuth-panel',2,472,607,[0,30],[0,5,10,15,20,25],azFalc,null,azMulti,azMulti,'Azimuth [deg]');
// ===== PAGE 3 axes (heatmap frames) =====
P=1854;
const hmRows=[[107,248],[262,401],[416,556],[570,712]];
hmRows.forEach((r,i)=>{
  const left=axes('heatmap-axes-left-'+i,[P+131,r[0],P+457,r[1]],[0,17.4],i==0?[-0.4,2.5]:[0,-8.5],[0,2,4,6,8,10,12,14,16],i==0?[0,0.5,1,1.5,2,2.5]:[0,-2,-4,-6,-8],{noxl:i<3,ylab:i==0?['0.0','0.5','1.0','1.5','2.0','2.5']:null});
  txt(left.g,P+100,(r[0]+r[1])/2,i==0?'z [Mm]':'log₁₀ τ₅₀₀',10.5,'middle','#333',-90);
  txt(left.g,P+137,r[0]+18,'('+'abcd'[i]+')',11,'start');
  const right=axes('heatmap-axes-right-'+i,[P+473,r[0],P+800,r[1]],[0,17.4],i==0?[-0.4,2.5]:[0,-8.5],[0,2,4,6,8,10,12,14,16],i==0?[0,0.5,1,1.5,2,2.5]:[0,-2,-4,-6,-8],{noxl:i<3,yr:true,ylab:i==0?['0.0','0.5','1.0','1.5','2.0','2.5']:null});
  txt(right.g,P+842,(r[0]+r[1])/2,i==0?'z [Mm]':'log₁₀ τ₅₀₀',10.5,'middle','#333',-90);
  txt(right.g,P+479,r[0]+18,'('+'efgh'[i]+')',11,'start');
});
txt(root,P+294,744,'x [Mm]',11);txt(root,P+636,744,'x [Mm]',11);
// ===== PAGE 4 =====
P=2781;
a=axes('bifrost-spectrum-left',[P+124,103,P+459,240],[279.25,280.52],[0,2.2],[279.4,279.6,279.8,280.0,280.2,280.4],[0,0.5,1,1.5,2],{ylab:['0.0','0.5','1.0','1.5','2.0']});
series(a,bfWave,bfLeftObs,'#222',1,'bifrost-input');series(a,bfWave,bfLeftInv,OR,1,'inverted-spectrum');
txt(a.g,P+130,116,'x = 9.6 Mm',9.5,'start');txt(a.g,P+90,172,'Intensity [nW m⁻² Hz⁻¹ sr⁻¹]',10.5,'middle','#333',-90);
[['Bifrost','#222'],['Inverted',OR]].forEach((e,i)=>{const l=mk('line',a.g);l.setAttribute('x1',P+383);l.setAttribute('x2',P+399);l.setAttribute('y1',117+i*15.5);l.setAttribute('y2',117+i*15.5);l.setAttribute('stroke',e[1]);l.setAttribute('stroke-width',1.3);
 
 
 txt(a.g,P+410,121+i*15.5,e[0],11,'start');});
txt(a.g,P+291,272,'Wavelength [nm]',11);
a=axes('bifrost-spectrum-right',[P+473,103,P+808,240],[279.25,280.52],[0,0.35],[279.4,279.6,279.8,280.0,280.2,280.4],[0,0.1,0.2,0.3],{yr:true,ylab:['0.0','0.1','0.2','0.3']});
series(a,bfWave,bfRightObs,'#222',1,'bifrost-input');series(a,bfWave,bfRightInv,OR,1,'inverted-spectrum');
txt(a.g,P+478,117,'x = 15.6 Mm',9.5,'start');txt(a.g,P+845,172,'Intensity [nW m⁻² Hz⁻¹ sr⁻¹]',10.5,'middle','#333',-90);
txt(a.g,P+640,272,'Wavelength [nm]',11);
const tx4=[-7,-6,-5,-4,-3,-2,-1,0];
a=axes('bifrost-temp-left',[P+124,275,P+459,389],[-7.6,0],[2.5,14],tx4,[4,6,8,10,12,14],{noxl:true});
series(a,tauB,tLeftObs,'#222',1,'temp-input');series(a,tauB,tLeftInv,OR,1,'temp-inverted');txt(a.g,P+95,332,'Temperature [kK]',10.5,'middle','#333',-90);
a=axes('bifrost-temp-right',[P+473,275,P+808,389],[-7.6,0],[2.5,14],tx4,[4,6,8,10,12,14],{noxl:true,yr:true});
series(a,tauB,tRightObs,'#222',1,'temp-input');series(a,tauB,tRightInv,OR,1,'temp-inverted');txt(a.g,P+845,332,'Temperature [kK]',10.5,'middle','#333',-90);
a=axes('bifrost-vlos-left',[P+124,389,P+459,504],[-7.6,0],[-3.3,3.3],tx4,[-3,-2,-1,0,1,2,3]);
series(a,tauB,vLeftObs,'#222',1,'vlos-input');series(a,tauB,vLeftInv,OR,1,'vlos-inverted');txt(a.g,P+95,446,'v_l.o.s [km s⁻¹]',10.5,'middle','#333',-90);txt(a.g,P+291,532,'log₁₀ τ₅₀₀',11);
a=axes('bifrost-vlos-right',[P+473,389,P+808,504],[-7.6,0],[-3.3,3.3],tx4,[-3,-2,-1,0,1,2,3],{yr:true});
series(a,tauB,vRightObs,'#222',1,'vlos-input');series(a,tauB,vRightInv,OR,1,'vlos-inverted');txt(a.g,P+845,446,'v_l.o.s [km s⁻¹]',10.5,'middle','#333',-90);txt(a.g,P+640,532,'log₁₀ τ₅₀₀',11);
// ===== PAGE 5 =====
P=3708;
[[123,342],[352,571],[581,800]].forEach((c,i)=>{
  const m=axes('map-axes-'+i,[P+c[0],135,P+c[1],423],[0,93],[0,111],[0,20,40,60,80],[0,20,40,60,80,100],{noyl:i>0,fs:9.5});
  txt(m.g,(P+c[0]+P+c[1])/2,453,'x [arcsec]',10);
  [[88,104,'#bbbbbb','quiet-sun-marker'],[16,92,'#3a8ee0','plage-marker'],[41,18,'#f0a020','sunspot-marker']].forEach(k=>{
    const t=txt(m.g,m.s.x(k[0]),m.s.y(k[1])+5,'✚',12,'middle',k[2]);
    
  });
});
txt(root,P+100,280,'y [arcsec]',10,'middle','#333',-90);
const specRows=[[480,633,[0,1.5],[0,0.3,0.6,0.9,1.2,1.5],qsObs,qsFit,'quiet sun','#aaaaaa'],[650,802,[0,1.6],[0,0.3,0.6,0.9,1.2,1.5],spObs,spFit,'sunspot','#f0a020'],[822,973,[0,8.2],[0,1.5,3,4.5,6,7.5],plObs,plFit,'plage','#3a8ee0']];
specRows.forEach((r,i)=>{
  const s=axes('iris-spectrum-'+r[6].replace(' ','-'),[P+124,r[0],P+511,r[1]],[279.33,280.53],r[2],[279.4,279.6,279.8,280.0,280.2,280.4],r[3],{noxl:i<2,nobox:true,fs:9.5,ylab:r[3].map(v=>v.toFixed(1))});
  series(s,irisWave,r[5],'#f08080',1.2,'best-fit');series(s,irisWave,r[4],'#222',1,'observed-spectrum');
  txt(s.g,P+130,r[0]+16,'✚',12,'start',r[7]);txt(s.g,P+145,r[0]+16,r[6],11,'start',r[7]);
  const ib=[P+248,r[0]+12,P+415,r[0]+(i==2?88:68)];
  const ins=axes('inset-'+r[6].replace(' ','-'),ib,[279.58,279.685],[0,1],[279.59,279.62,279.65,279.68],[],{nobox:true,fs:5});
  ins.g.querySelector('rect').setAttribute('stroke','none');
  const iw=irisWave.slice(5,13), io=r[4].slice(5,13).map(v=>v/Math.max(...r[4])), ifit=r[5].slice(5,13).map(v=>v/Math.max(...r[5]));
  series(ins,iw.map((v,j)=>279.58+j*0.015),io,'#222',1,'inset-observed');
  series(ins,iw.map((v,j)=>279.58+j*0.015),ifit,OR,1,'inset-fit');
  const stat=axes('stratification-'+r[6].replace(' ','-'),[P+558,r[0],P+800,r[1]],[-7.6,0],[3.5,10],tx4,[4,5,6,7,8,9,10],{noxl:i<2,fs:9});
  const vs=scale([P+558,r[0],P+800,r[1]],[-7.6,0],[0,14]);
  series(stat,tauC,[qsT,spT,plT][i].map(v=>Math.min(v,10.5)),'#111',1.2,'temperature-stratification');
  const vax={g:stat.g,s:{x:vs.x,y:vs.y}};
  series(vax,tauC,[qsVlos,spVlos,plVlos][i],OR,1.4,'vlos-stratification');
  series(vax,tauC,[qsVturb,spVturb,plVturb][i],'#2a8ee0',1.4,'vturb-stratification');
  [0,2,4,6,8,10,12,14].forEach(v=>txt(stat.g,P+805,vs.y(v)+3,String(v),9,'start','#333'));
});
txt(root,P+317,995,'Wavelength [nm]',11);txt(root,P+679,995,'log₁₀ τ₅₀₀',11);
txt(root,P+100,726,'Intensity [nW m⁻² Hz⁻¹ sr⁻¹]',10,'middle','#333',-90);
txt(root,P+537,726,'Temperature [kK]',10,'middle','#333',-90);
txt(root,P+838,726,'[km s⁻¹]',10,'middle','#333',-90);
[['T','#111'],['v_l.o.s',OR],['v_turb','#2a8ee0']].forEach((e,i)=>{const l=mk('line',root);l.setAttribute('x1',P+740);l.setAttribute('x2',P+766);l.setAttribute('y1',673+i*10);l.setAttribute('y2',673+i*10);l.setAttribute('stroke',e[1]);l.setAttribute('stroke-width',1.4);
 
 
 txt(root,P+770,677+i*10,e[0],9,'start');});
</script>
</body></html>
